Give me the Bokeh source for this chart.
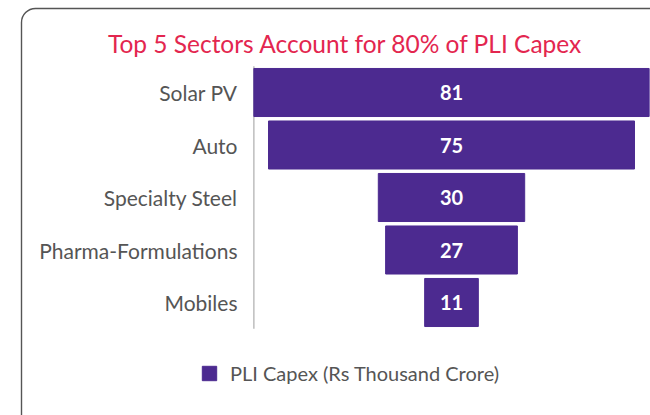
from bokeh.plotting import figure
from bokeh.models import (ColumnDataSource, Range1d, BoxAnnotation,
                          Legend, LegendItem)
from bokeh.core.properties import value
from bokeh.embed import file_html
from bokeh.resources import INLINE

# ---- data ----
sectors = ["Solar PV", "Auto", "Specialty Steel", "Pharma-Formulations", "Mobiles"]
capex = [81, 75, 30, 27, 11]
title_text = "Top 5 Sectors Account for 80% of PLI Capex"
series_name = "PLI Capex (Rs Thousand Crore)"

# ---- style ----
BAR = "#4C2A90"
FONT = "Lato"
W, H = 650, 415
CENTER_PX = 451.0      # horizontal centre of the funnel (px)
PX_PER_UNIT = 4.88     # px per Rs thousand crore
TOP_BAND_PX = 92.0     # centre of first band (px)
BAND_PX = 52.5         # band pitch (px)

def xd(px):
    return (px - CENTER_PX) / PX_PER_UNIT

def yd(px):
    return (px - TOP_BAND_PX) / BAND_PX

pos = list(range(len(sectors)))
src = ColumnDataSource(dict(
    sector=sectors,
    pos=pos,
    capex=capex,
    left=[-v / 2 for v in capex],
    right=[v / 2 for v in capex],
    label=[str(v) for v in capex],
))

p = figure(width=W, height=H,
           x_range=Range1d(xd(0), xd(W)),
           y_range=Range1d(start=yd(H), end=yd(0)),
           x_axis_type=None, y_axis_type=None,
           output_backend="svg", toolbar_location=None,
           min_border=0)
p.xgrid.visible = False
p.ygrid.visible = False
p.outline_line_color = None
p.background_fill_color = "white"
p.border_fill_color = "white"

# rounded frame around the chart
p.add_layout(BoxAnnotation(left=21, right=W + 60, top=8, bottom=H + 60,
                           left_units="canvas", right_units="canvas",
                           top_units="canvas", bottom_units="canvas",
                           fill_alpha=0, line_color="#555555", line_width=1.4,
                           line_alpha=1.0, border_radius=14))

# title
p.text(x=[xd(345)], y=[yd(43)], text=[title_text],
       text_font=value(FONT), text_font_size="24.5px", text_color="#E3264F",
       text_align="center", text_baseline="alphabetic")

# category axis (line + labels)
axis_x = -max(capex) / 2
p.segment(x0=axis_x, y0=-0.5, x1=axis_x, y1=len(sectors) - 0.5,
          line_color="#bdbdbd", line_width=1.5)
p.text(x=xd(237), y="pos", text="sector", source=src,
       text_font=value(FONT), text_font_size="21px", text_color="#555555",
       text_align="right", text_baseline="middle")

# funnel bars
r = p.hbar(y="pos", left="left", right="right", height=0.915, source=src,
           fill_color=BAR, line_color=BAR)

p.text(x=0, y="pos", text="label", source=src,
       text_color="white", text_font=value(FONT), text_font_style="bold",
       text_font_size="20px", text_align="center", text_baseline="middle")

legend = Legend(items=[LegendItem(label=series_name, renderers=[r])],
                location=(200, 30), orientation="horizontal",
                border_line_color=None, background_fill_alpha=0,
                padding=0, margin=0, glyph_width=18, glyph_height=18,
                label_height=18,
                label_text_font=FONT, label_text_font_size="20px",
                label_text_color="#555555", label_standoff=12)
p.add_layout(legend)

open("out.html", "w").write(file_html(p, INLINE))
